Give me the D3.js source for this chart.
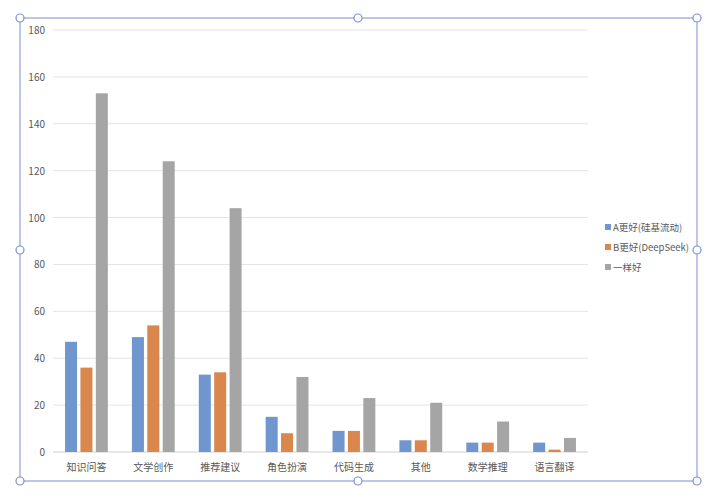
<!DOCTYPE html>
<html><head><meta charset="utf-8">
<script src="https://cdn.jsdelivr.net/npm/d3@7"></script>
<style>body{margin:0;background:#fff}svg{font-family:"Noto Sans CJK SC","Noto Sans",sans-serif}</style>
</head><body><svg id="c" width="720" height="497"></svg>
<script>
const categories = ["知识问答","文学创作","推荐建议","角色扮演","代码生成","其他","数学推理","语言翻译"];
const seriesNames = ["A更好(硅基流动)","B更好(DeepSeek)","一样好"];
const seriesA = [47,49,33,15,9,5,4,4];
const seriesB = [36,54,34,8,9,5,4,1];
const seriesC = [153,124,104,32,23,21,13,6];
const yTicks = [0,20,40,60,80,100,120,140,160,180];
const colors = ["#6f96cd","#d9874c","#a5a5a5"];

const svg = d3.select("#c");
const x = d3.scaleBand().domain(categories).range([53,588]).paddingInner(0.36).paddingOuter(0.18);
const xs = d3.scaleBand().domain([0,1,2]).range([0,x.bandwidth()]).paddingInner(0.22);
const y = d3.scaleLinear().domain([0,180]).range([452,30]);

// grid
svg.selectAll(".g").data(yTicks).join("line")
  .attr("x1",53).attr("x2",588).attr("y1",d=>y(d)).attr("y2",d=>y(d))
  .attr("stroke",d=>d===0?"#d0d0d0":"#e4e4e4").attr("stroke-width",1);
svg.selectAll(".yt").data(yTicks).join("text")
  .attr("x",45).attr("y",d=>y(d)+4).attr("text-anchor","end")
  .attr("font-size",10).attr("fill","#595959").text(d=>d);

const series = [seriesA,seriesB,seriesC];
series.forEach((vals,si)=>{
  svg.append("g").selectAll("rect").data(vals).join("rect")
    .attr("x",(d,i)=>x(categories[i])+xs(si))
    .attr("width",xs.bandwidth())
    .attr("y",d=>y(d)).attr("height",d=>y(0)-y(d))
    .attr("fill",colors[si]);
});

svg.selectAll(".xt").data(categories).join("text")
  .attr("x",d=>x(d)+x.bandwidth()/2).attr("y",471).attr("text-anchor","middle")
  .attr("font-size",10).attr("fill","#595959").text(d=>d);

// legend
const lg = svg.append("g").attr("transform","translate(605,229)");
seriesNames.forEach((n,i)=>{
  lg.append("rect").attr("x",0).attr("y",i*20-5).attr("width",6).attr("height",6).attr("fill",colors[i]);
  lg.append("text").attr("x",8).attr("y",i*20+2).attr("font-size",9.5).attr("fill","#595959").text(n);
});

// selection frame
const fx=[20,358,697], fy=[18,250,481];
svg.append("rect").attr("x",20).attr("y",18).attr("width",677).attr("height",463)
  .attr("fill","none").attr("stroke","#7b8fd0").attr("stroke-width",1);
const pts=[];
fx.forEach(a=>fy.forEach(b=>{ if(!(a===358&&b===250)) pts.push([a,b]); }));
svg.selectAll(".h").data(pts).join("circle")
  .attr("cx",d=>d[0]).attr("cy",d=>d[1]).attr("r",4)
  .attr("fill","#fff").attr("stroke","#7b8fd0").attr("stroke-width",1.2);
</script></body></html>
